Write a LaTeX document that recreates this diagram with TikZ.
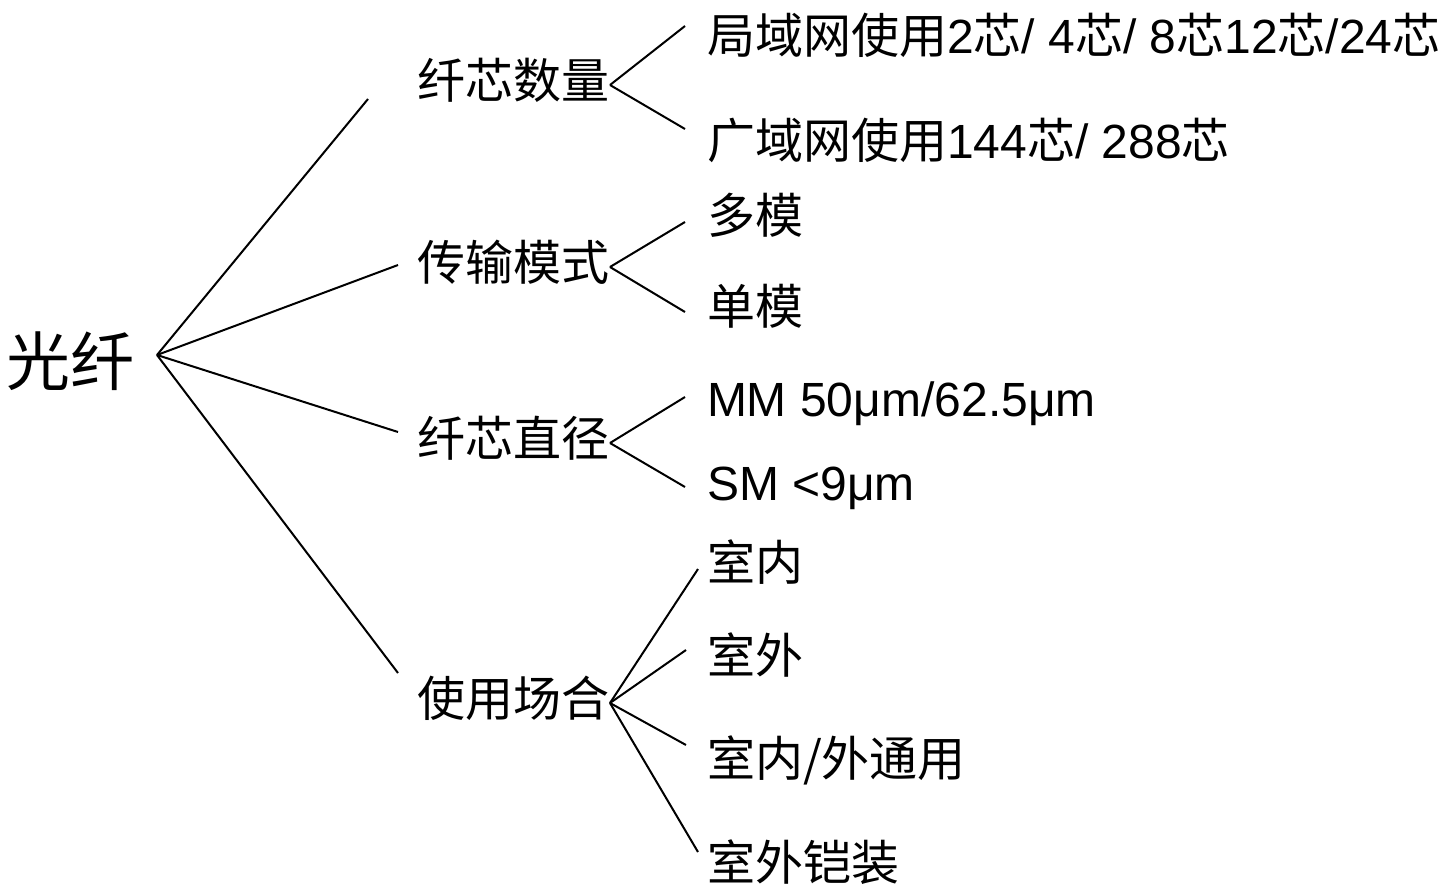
\documentclass[tikz,border=0pt]{standalone}
\usepackage{fontspec}
\setmainfont{Liberation Sans}
\newfontfamily\cjk{Noto Sans CJK SC}
\newcommand{\zh}[1]{{\cjk #1}}
\usetikzlibrary{positioning,calc}

\tikzset{
  rootnode/.style={font=\fontsize{64}{70}\selectfont, inner sep=0pt, inner xsep=22pt,
    text height=62pt, text depth=2pt, anchor=east},
  branch/.style={font=\fontsize{48}{56}\selectfont, inner sep=0pt,
    text height=36pt, text depth=10pt, anchor=east},
  leaf/.style={font=\fontsize{48}{56}\selectfont, inner sep=0pt, anchor=base west},
}

\begin{document}
\begin{tikzpicture}[x=1pt,y=-1pt,line width=2pt]
\useasboundingbox (0,0) rectangle (1439,884);

% root and second level
\node[rootnode] (gx) at (157,355) {\zh{光纤}};

\node[branch] (sl) at (610,85) {\zh{纤芯数量}};
\node[branch] (ms) at (610,267) {\zh{传输模式}};
\node[branch] (zj) at (610,443) {\zh{纤芯直径}};
\node[branch] (cj) at (610,703) {\zh{使用场合}};

\coordinate (sl-in) at (368,99);
\coordinate (ms-in) at (398,265);
\coordinate (zj-in) at (398,432);
\coordinate (cj-in) at (398,673);

\draw (gx.east)--(sl-in);
\draw (gx.east)--(ms-in);
\draw (gx.east)--(zj-in);
\draw (gx.east)--(cj-in);

% leaves
\node[leaf] (sl-1) at (706,53) {\zh{局域网使用}2\zh{芯}/ 4\zh{芯}/ 8\zh{芯}12\zh{芯}/24\zh{芯}};
\node[leaf] (sl-2) at (706,158) {\zh{广域网使用}144\zh{芯}/ 288\zh{芯}};
\node[leaf] (ms-1) at (706,233) {\zh{多模}};
\node[leaf] (ms-2) at (706,324) {\zh{单模}};
\node[leaf] (zj-1) at (706,416) {MM 50μm/62.5μm};
\node[leaf] (zj-2) at (706,500) {SM <9μm};
\node[leaf] (cj-1) at (706,580) {\zh{室内}};
\node[leaf] (cj-2) at (706,673) {\zh{室外}};
\node[leaf] (cj-3) at (706,776) {\zh{室内/外通用}};
\node[leaf] (cj-4) at (706,880) {\zh{室外铠装}};

\coordinate (sl-1-in) at (685,26);
\coordinate (sl-2-in) at (685,129);
\coordinate (ms-1-in) at (685,222);
\coordinate (ms-2-in) at (685,312);
\coordinate (zj-1-in) at (685,397);
\coordinate (zj-2-in) at (685,487);
\coordinate (cj-1-in) at (698,569);
\coordinate (cj-2-in) at (686,650);
\coordinate (cj-3-in) at (686,745);
\coordinate (cj-4-in) at (698,852);

\draw (sl.east)--(sl-1-in);
\draw (sl.east)--(sl-2-in);
\draw (ms.east)--(ms-1-in);
\draw (ms.east)--(ms-2-in);
\draw (zj.east)--(zj-1-in);
\draw (zj.east)--(zj-2-in);
\draw (cj.east)--(cj-1-in);
\draw (cj.east)--(cj-2-in);
\draw (cj.east)--(cj-3-in);
\draw (cj.east)--(cj-4-in);
\end{tikzpicture}
\end{document}
